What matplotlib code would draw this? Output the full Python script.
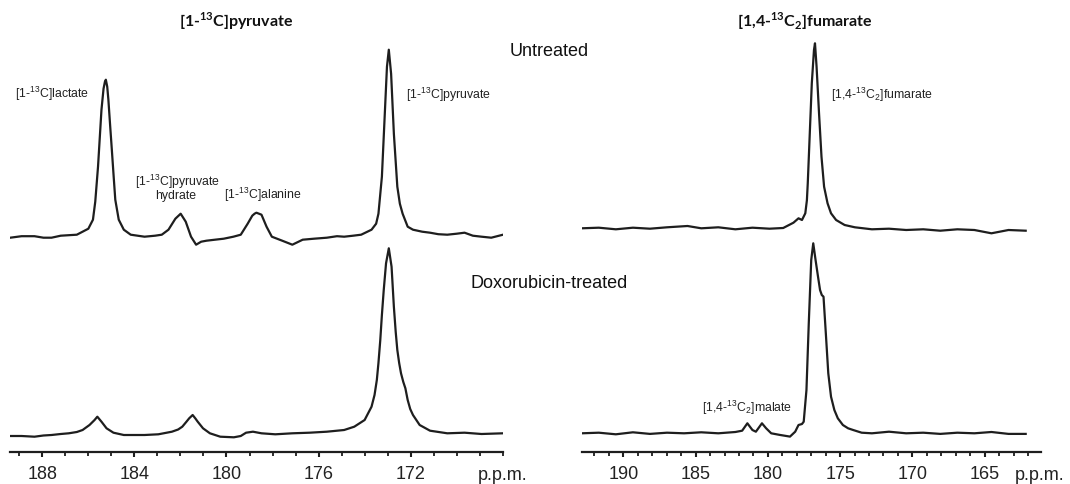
import matplotlib
matplotlib.use("Agg")
import matplotlib.pyplot as plt
import numpy as np
from matplotlib.ticker import MultipleLocator

# ---------------- data (chemical shift in p.p.m., signal intensity a.u.) ----------------
pyr_untreated_ppm = [189.39, 188.90, 188.34, 187.95, 187.60, 187.20, 186.85, 186.50, 186.25, 186.00,
                     185.80, 185.70, 185.58, 185.43, 185.34, 185.28, 185.24, 185.18,
                     185.13, 185.05, 184.98, 184.90, 184.83, 184.68, 184.46, 184.16, 183.56, 183.10,
                     182.81, 182.52, 182.22,
                     181.99, 181.77, 181.54, 181.32, 181.10, 180.87, 180.50, 180.12, 179.70, 179.38,
                     179.08, 178.88, 178.78,
                     178.70, 178.48, 178.26, 178.03, 177.58, 177.14, 176.69, 176.20, 175.64, 175.20,
                     174.89, 174.50, 174.15,
                     173.70, 173.50, 173.40, 173.25, 173.13, 173.03, 172.95, 172.85, 172.73, 172.58,
                     172.47, 172.35,
                     172.13, 171.90, 171.50, 171.16, 170.80, 170.41, 170.00, 169.66, 169.30, 168.92,
                     168.50, 167.99]
pyr_untreated_int = [-1, 0.5, 0.5, -1, -1, 1, 1.5, 2, 5, 8,
                     17, 35, 70, 127, 148, 155, 157, 150,
                     137, 110, 87, 60, 37, 17, 7, 2, 0, 1,
                     2, 7, 18,
                     23, 15, 0, -8, -5, -4, -3, -2, 0, 2,
                     13, 21, 23,
                     24, 22, 10, 0, -4, -8, -3, -2, -1, 0.5,
                     0, 1, 2,
                     7, 13, 23, 60, 120, 170, 187, 163, 103, 50,
                     33, 23,
                     10, 7, 5, 4, 2.5, 2, 3, 4, 1, 0,
                     -1, 2]

pyr_dox_ppm = [189.39, 188.90, 188.34, 187.95, 187.60, 187.20, 186.85, 186.50, 186.25, 185.95,
               185.73, 185.61, 185.43, 185.21,
               184.91, 184.46, 184.00, 183.56, 182.96, 182.37, 182.10, 181.92, 181.75, 181.62,
               181.47, 181.35, 181.25, 181.02,
               180.72, 180.27, 179.68, 179.38, 179.15, 178.85, 178.48, 177.88, 177.14, 176.39,
               175.64, 174.89, 174.45, 174.00, 173.70, 173.57, 173.47, 173.40, 173.32, 173.25,
               173.17, 173.07, 172.95,
               172.83, 172.73, 172.65, 172.58, 172.50, 172.42, 172.32, 172.23, 172.13, 172.02,
               171.90, 171.61, 171.16, 170.41,
               169.66, 168.92, 167.99]
pyr_dox_int = [-1, -1, -1.7, -0.5, 0, 1, 1.7, 3, 5, 10,
               15, 18.3, 13.3, 6.7,
               2.3, 0, 0, 0, 0.7, 3.3, 5.5, 8.3, 13, 16.7,
               20, 16.5, 13.3, 6.7,
               1.7, -1.7, -2.3, -1, 2.3, 3.3, 1.7, 0.7, 1.7, 2.3,
               3.3, 5, 8.3, 15, 28.3, 40, 55, 72, 95, 120,
               145, 171.7, 186.7,
               168.3, 128.3, 103, 85, 72, 61.7, 53, 46.7, 35, 26,
               20, 10, 4.3, 1.7,
               2.3, 1, 1.7]

fum_untreated_ppm = [192.88, 191.70, 190.52, 189.34, 188.16, 186.98, 185.56, 184.61, 183.43, 182.25,
                     181.07, 179.89, 178.94, 178.23, 177.88, 177.64, 177.41, 177.30, 177.24, 177.17,
                     177.10, 176.96,
                     176.81, 176.74, 176.63, 176.46, 176.29, 176.11, 175.87, 175.63, 175.28, 174.69,
                     173.98, 172.80, 171.62, 170.43, 169.25, 168.07, 166.89, 165.71, 164.53, 163.35,
                     162.16]
fum_untreated_int = [0, 0.6, -1, 0.6, -0.4, 1, 2.3, 0, 1, -1,
                     0.6, -0.4, 0.3, 5.6, 10, 8.3, 15, 28, 45, 70,
                     95, 145,
                     178.3, 185, 161.6, 115, 71.6, 41.6, 25, 15, 8.3, 3.3,
                     1, -1, -0.4, -1.7, -1, -2.4, -1, -1.7, -5, -1.7,
                     -2.4]

fum_dox_ppm = [192.88, 191.70, 190.52, 189.34, 188.16, 186.98, 185.80, 184.61, 183.43, 182.25,
               181.78, 181.42, 181.07, 180.83, 180.41, 180.12, 179.77, 179.18, 178.47, 178.11,
               177.88, 177.64, 177.52, 177.33, 177.17, 177.00, 176.86, 176.70, 176.53, 176.39,
               176.27, 176.15, 175.99, 175.82, 175.63, 175.40, 175.16, 174.81, 174.45, 174.10,
               173.51, 172.80, 171.62, 170.43, 169.25, 168.07, 166.89, 165.71, 164.53, 163.35,
               162.16]
fum_dox_int = [0, 0.6, -1, 1, -0.6, 0.6, 0, 1, 0, 1.3,
               2.6, 10, 3.3, 1.6, 10, 5, 0, -1.6, -3.3, 1.6,
               8.3, 9.3, 11.6, 43.3, 110, 173.3, 190, 173.3, 156.6, 143.3,
               138.3, 136.6, 100, 60, 36.6, 23.3, 15, 8.3, 5, 3.3,
               0.6, 0, 1.6, 0, 0.6, -0.6, 0.6, 0, 1.3, -0.6,
               -0.6]

left_ticks = [188, 184, 180, 176, 172]
right_ticks = [190, 185, 180, 175, 170, 165]

panel_titles = [r"[1-$^{\mathregular{13}}$C]pyruvate",
                r"[1,4-$^{\mathregular{13}}$C$_{\mathregular{2}}$]fumarate"]
condition_labels = ["Untreated", "Doxorubicin-treated"]

# ---------------- layout ----------------
W, H = 1070, 484
fig = plt.figure(figsize=(W / 100, H / 100), dpi=100)
fig.patch.set_facecolor("white")

def pos(x0, x1, ytop, ybot):
    return [x0 / W, 1 - ybot / H, (x1 - x0) / W, (ybot - ytop) / H]

def fxy(x, y):
    return x / W, 1 - y / H

LINE = "#1e1e1e"
TICKFONT = "Liberation Sans"

axL = fig.add_axes(pos(10.3, 503, 30, 452))
axR = fig.add_axes(pos(581.6, 1041, 30, 452))

lw = 1.6
# vertical offsets of the stacked spectra (layout only)
axL.plot(pyr_untreated_ppm, np.array(pyr_untreated_int) + 215.3, color=LINE, lw=lw,
         solid_joinstyle="round")
axL.plot(pyr_dox_ppm, np.array(pyr_dox_int) + 17.0, color=LINE, lw=lw, solid_joinstyle="round")
axR.plot(fum_untreated_ppm, np.array(fum_untreated_int) + 223.7, color=LINE, lw=lw,
         solid_joinstyle="round")
axR.plot(fum_dox_ppm, np.array(fum_dox_int) + 18.7, color=LINE, lw=lw, solid_joinstyle="round")

axL.set_xlim(189.39, 167.99)
axR.set_xlim(192.89, 161.1)
for ax, ticks in ((axL, left_ticks), (axR, right_ticks)):
    ax.set_ylim(0, 422)
    ax.set_xticks(ticks)
    ax.set_xticklabels([str(t) for t in ticks], fontfamily=TICKFONT, fontsize=13, color="#222")
    ax.xaxis.set_minor_locator(MultipleLocator(1))
    ax.set_yticks([])
    for s in ("left", "right", "top"):
        ax.spines[s].set_visible(False)
    ax.spines["bottom"].set_linewidth(1.6)
    ax.spines["bottom"].set_color(LINE)
    ax.tick_params(axis="x", which="major", direction="out", length=3.8, width=1.5,
                   color=LINE, pad=6.5)
    ax.tick_params(axis="x", which="minor", direction="out", length=3.2, width=1.3, color=LINE)
    ax.patch.set_alpha(0)

# p.p.m. units at the right end of each axis
fig.text(*fxy(502.5, 480), "p.p.m.", ha="center", va="baseline", fontfamily=TICKFONT,
         fontsize=13, color="#222")
fig.text(*fxy(1040, 480), "p.p.m.", ha="center", va="baseline", fontfamily=TICKFONT,
         fontsize=13, color="#222")

# titles
fig.text(*fxy(236, 21), panel_titles[0], ha="center", va="center", fontfamily="Lato",
         fontweight="bold", fontsize=11.5, color="#111")
fig.text(*fxy(804.6, 21), panel_titles[1], ha="center", va="center", fontfamily="Lato",
         fontweight="bold", fontsize=11.5, color="#111")

# condition labels
fig.text(*fxy(549, 52), condition_labels[0], ha="center", va="center", fontfamily=TICKFONT,
         fontsize=13, color="#111")
fig.text(*fxy(549, 284), condition_labels[1], ha="center", va="center", fontfamily=TICKFONT,
         fontsize=13, color="#111")

# peak annotations
small = dict(fontfamily=TICKFONT, fontsize=8.8, color="#222")
fig.text(*fxy(15, 94), r"[1-$^{\mathregular{13}}$C]lactate", ha="left", va="center", **small)
fig.text(*fxy(406, 95), r"[1-$^{\mathregular{13}}$C]pyruvate", ha="left", va="center", **small)
fig.text(*fxy(177, 182), r"[1-$^{\mathregular{13}}$C]pyruvate", ha="center", va="center", **small)
fig.text(*fxy(176, 196), "hydrate", ha="center", va="center", **small)
fig.text(*fxy(263, 195), r"[1-$^{\mathregular{13}}$C]alanine", ha="center", va="center", **small)
fig.text(*fxy(831, 95), r"[1,4-$^{\mathregular{13}}$C$_{\mathregular{2}}$]fumarate", ha="left",
         va="center", **small)
fig.text(*fxy(746.7, 408), r"[1,4-$^{\mathregular{13}}$C$_{\mathregular{2}}$]malate", ha="center",
         va="center", **small)

fig.savefig("out.png", dpi=100, facecolor="white")
